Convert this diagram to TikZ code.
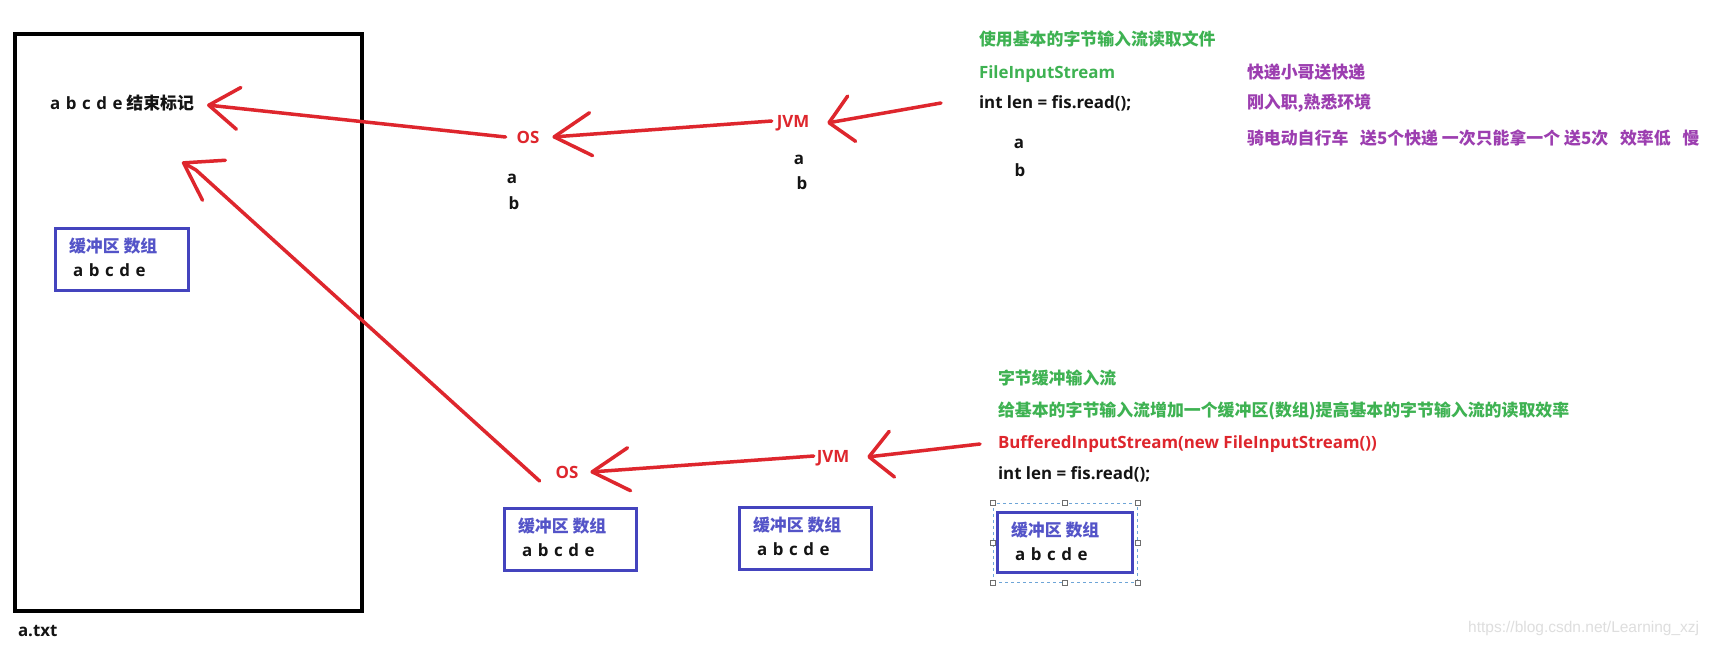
\documentclass[tikz,border=0pt]{standalone}
\usepackage{fontspec}
\setmainfont{Noto Sans CJK SC}
\newfontfamily\lat{Open Sans}
\newfontfamily\wm{Liberation Sans}
\usetikzlibrary{arrows.meta}
\definecolor{cred}{RGB}{222,38,45}
\definecolor{cgreen}{RGB}{62,178,82}
\definecolor{cpurple}{RGB}{156,62,176}
\definecolor{cblue}{RGB}{68,68,190}
\definecolor{cbluetxt}{RGB}{84,84,200}
\definecolor{cblack}{RGB}{20,20,20}
\definecolor{csel}{RGB}{110,165,215}
\definecolor{chandle}{RGB}{110,110,110}
\definecolor{cwm}{RGB}{222,222,222}
\newcommand{\abcde}{a\hspace{0.33em}b\hspace{0.33em}c\hspace{0.33em}d\hspace{0.33em}e}
\tikzset{
  txt/.style={inner sep=0pt, outer sep=0pt, anchor=west, text height=12pt, text depth=0pt,
    text=cblack, font=\fontsize{16.9}{20}\selectfont\bfseries},
  lt/.style={txt, font=\fontsize{16.9}{20}\selectfont\lat\bfseries},
  redlbl/.style={lt, anchor=center, text=cred},
  bufbox/.style={draw=cblue, line width=3pt, inner sep=0pt, outer sep=0pt},
  redline/.style={draw=cred, line width=3.5pt, line cap=round, line join=round},
  redarr/.style 2 args={redline, -{Straight Barb[length=#1pt, width=#2pt, round]}},
  handle/.style={draw=chandle, fill=white, line width=0.8pt, minimum size=5pt, inner sep=0pt},
}
\begin{document}
\begin{tikzpicture}[x=1pt, y=-1pt]
\fill[white] (0,0) rectangle (1713,646);
\useasboundingbox (0,0) rectangle (1713,646);

% file box
\node[draw=black, line width=4pt, minimum width=347pt, minimum height=577pt, inner sep=0pt, outer sep=0pt] (file) at (188.5,322.5) {};
\node[lt] (atxt) at (18,630) {a.txt};
\node[txt] (endmark) at (50,103) {{\lat\abcde} 结束标记};

% buffer boxes
\node[bufbox, minimum width=133pt, minimum height=62pt] (b0) at (121.5,259) {};
\node[bufbox, minimum width=132pt, minimum height=62pt] (b1) at (570,539) {};
\node[bufbox, minimum width=132pt, minimum height=62pt] (b2) at (805,538) {};
\node[bufbox, minimum width=135pt, minimum height=60pt] (b3) at (1064.5,542) {};
\foreach \b in {b0,b1,b2,b3}{
  \node[txt, text=cbluetxt] (\b t) at ([shift={(14,18)}]\b.north west) {缓冲区 数组};
  \node[lt] (\b v) at ([shift={(18,42)}]\b.north west) {\abcde};
}
% selection frame
\node[draw=csel, dashed, line width=0.8pt, minimum width=144pt, minimum height=79pt, inner sep=0pt] (sel) at (1065,542.5) {};
\foreach \p in {north west,north,north east,east,south east,south,south west,west}
  \node[handle] at (sel.\p) {};

% upper row labels
\node[redlbl] (os1) at (528,137) {OS};
\node[redlbl] (jvm1) at (793,121) {JVM};
\node[lt, anchor=center] (os1a) at (512,177) {a};
\node[lt, anchor=center] (os1b) at (514,203) {b};
\node[lt, anchor=center] (jvm1a) at (799,158) {a};
\node[lt, anchor=center] (jvm1b) at (802,183) {b};

% lower row labels
\node[redlbl] (os2) at (567,472) {OS};
\node[redlbl] (jvm2) at (833,456) {JVM};

% upper text block
\node[txt, text=cgreen] (h1) at (979,39) {使用基本的字节输入流读取文件};
\node[lt, text=cgreen] (fis) at (979,72) {FileInputStream};
\node[lt] (read1) at (979,102) {int len = fis.read();};
\node[lt, anchor=center] (ra) at (1019,142) {a};
\node[lt, anchor=center] (rb) at (1020,170) {b};
\node[txt, text=cpurple] (p1) at (1247,72) {快递小哥送快递};
\node[txt, text=cpurple] (p2) at (1247,102) {刚入职,熟悉环境};
\node[txt, text=cpurple] (p3) at (1247,138) {骑电动自行车\hspace{0.7em}送5个快递 一次只能拿一个 送5次\hspace{0.7em}效率低\hspace{0.7em}慢};

% lower text block
\node[txt, text=cgreen] (g1) at (998,378) {字节缓冲输入流};
\node[txt, text=cgreen] (g2) at (998,410) {给基本的字节输入流增加一个缓冲区(数组)提高基本的字节输入流的读取效率};
\node[lt, text=cred] (buf) at (998,442) {BufferedInputStream(new FileInputStream())};
\node[lt] (read2) at (998,473) {int len = fis.read();};

% watermark
\node[anchor=west, inner sep=0pt, text=cwm, font=\wm\fontsize{15.5}{18}\selectfont] (wmk) at (1468,628) {https://blog.csdn.net/Learning\_xzj};

% arrows
\coordinate (src1) at (941,103);
\coordinate (t6) at (182,162);
\draw[redarr={23}{46}] (src1) -- ([xshift=18pt,yshift=-2pt]jvm1.east);
\draw[redarr={37}{43}] ([xshift=-5pt]jvm1.west) -- ([xshift=13pt]os1.east);
\draw[redarr={30}{42}] ([xshift=-11pt]os1.west) -- ([shift={(13,2)}]endmark.east);
\draw[redarr={23}{46}] ([xshift=-18pt,yshift=-2pt]buf.west) -- ([xshift=18pt,yshift=-1pt]jvm2.east);
\draw[redarr={37}{43}] ([xshift=-3pt]jvm2.west) -- ([xshift=12pt]os2.east);
\draw[redarr={35}{46}] ([shift={(-16,9)}]os2.west) -- ([shift={(14,8)}]t6) -- (t6);
\end{tikzpicture}
\end{document}
